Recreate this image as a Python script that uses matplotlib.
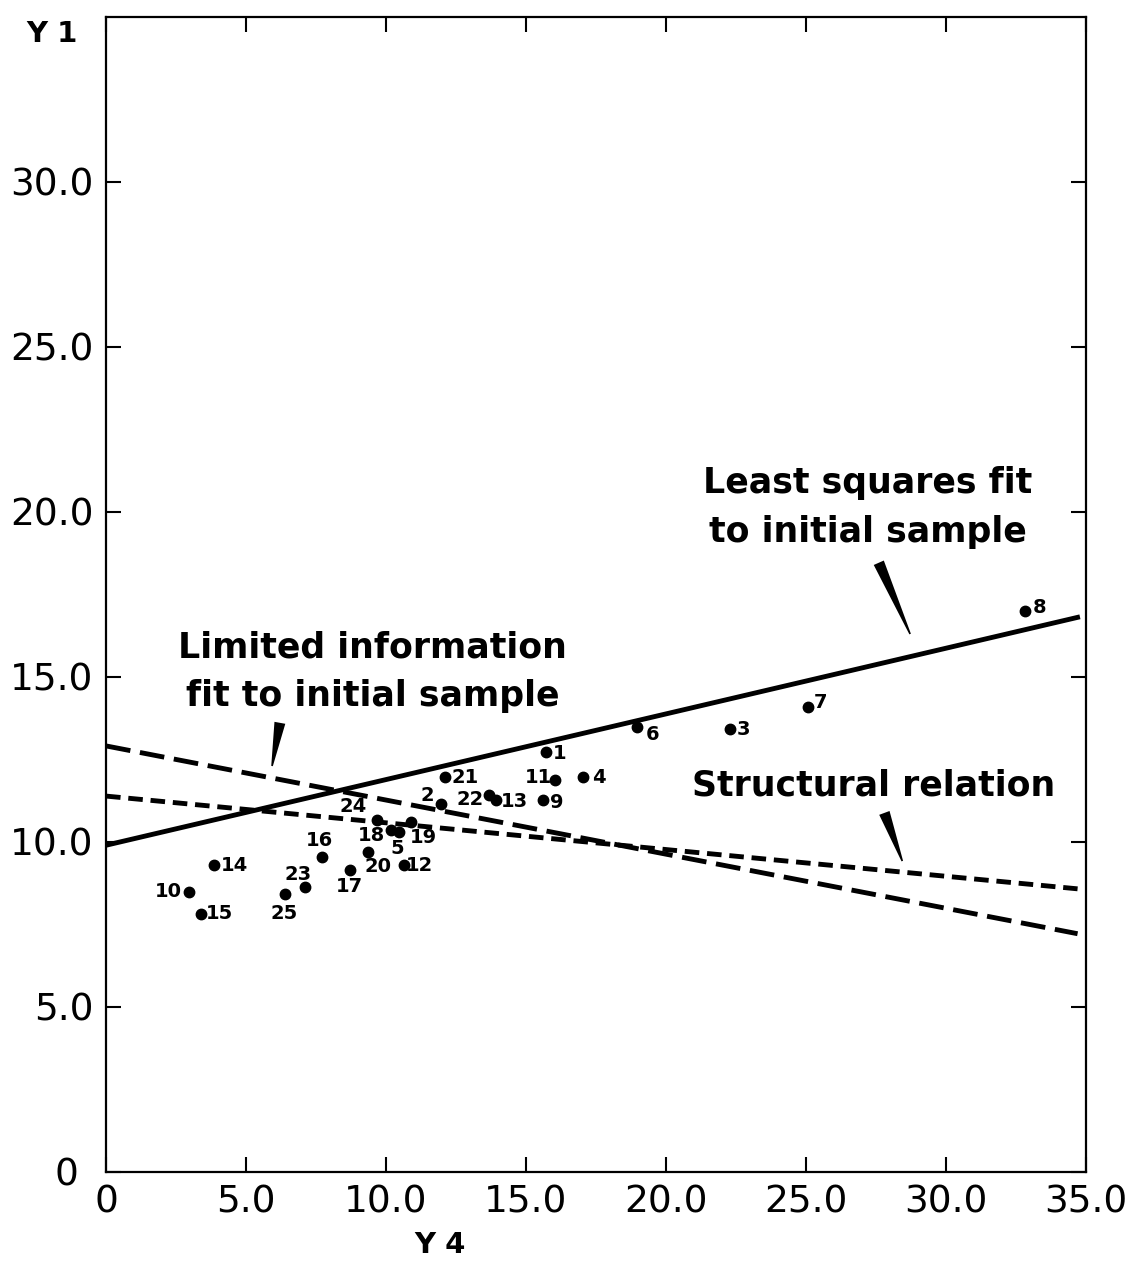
import numpy as np
import matplotlib
matplotlib.use('Agg')
import matplotlib.pyplot as plt
from matplotlib.patches import Polygon

#==============================================================================================#
# 0. 데이터
obs_id = [str(i) for i in range(1, 26)]
y4 = [15.70, 11.95, 22.27, 17.05, 10.47, 18.97, 25.07, 32.81, 15.62, 2.96,
      16.05, 10.64, 13.93, 3.87, 3.39, 7.70, 8.70, 10.19, 10.90, 9.35,
      12.10, 13.68, 7.12, 9.69, 6.40]
y1 = [12.73, 11.16, 13.42, 11.96, 10.30, 13.48, 14.09, 16.99, 11.27, 8.49,
      11.88, 9.29, 11.26, 9.30, 7.82, 9.53, 9.16, 10.36, 10.59, 9.70,
      11.98, 11.41, 8.63, 10.67, 8.42]

## 직선들: y1 = a + b * y4
fit_names = ['Least squares fit\nto initial sample',
             'Limited information\nfit to initial sample',
             'Structural relation']
fit_intercept = [9.90, 12.91, 11.39]
fit_slope = [0.199, -0.164, -0.081]
fit_xmax = [34.7, 34.7, 34.7]

x_ticks = [0, 5, 10, 15, 20, 25, 30, 35]
x_ticklabels = ['0', '5.0', '10.0', '15.0', '20.0', '25.0', '30.0', '35.0']
y_ticks = [0, 5, 10, 15, 20, 25, 30]
y_ticklabels = ['0', '5.0', '10.0', '15.0', '20.0', '25.0', '30.0']

#==============================================================================================#
# 1. 스타일 / 위치
## 점 번호 위치 (픽셀 오프셋, 위쪽 +)
label_off = {
    '1': (14, -2), '2': (-13, 8), '3': (14, 0), '4': (15, 0), '5': (-2, -16),
    '6': (15, -7), '7': (13, 4), '8': (15, 4), '9': (13, -2), '10': (-21, 0),
    '11': (-17, 2), '12': (16, 0), '13': (18, -1), '14': (20, 0), '15': (19, 0),
    '16': (-2, 17), '17': (0, -17), '18': (-20, -5), '19': (12, -15), '20': (10, -15),
    '21': (20, -1), '22': (-19, -4), '23': (-7, 13), '24': (-24, 13), '25': (-1, -19),
}
line_styles = ['-', (0, (5.1, 2.0)), (0, (3.0, 1.6))]
text_pos = [(27.2, 20.13), (9.53, 15.15), (27.4, 11.7)]
pointer_base = [(27.6, 18.46), (6.21, 13.61), (27.8, 10.88)]
pointer_tip = [(28.72, 16.30), (5.93, 12.30), (28.44, 9.42)]

#==============================================================================================#
# 2. 그림 그리기
fig = plt.figure(figsize=(11.35, 12.61), dpi=100)
ax = fig.add_axes([0.0934, 0.0706, 0.8634, 0.9160])
ax.set_xlim(0, 35)
ax.set_ylim(0, 35)

for a, b, xm, ls in zip(fit_intercept, fit_slope, fit_xmax, line_styles):
    xs = np.array([0.0, xm])
    ax.plot(xs, a + b * xs, color='black', lw=3.5, linestyle=ls)

ax.plot(y4, y1, 'o', color='black', markersize=7.5)
for name, x, y in zip(obs_id, y4, y1):
    dx, dy = label_off[name]
    ax.annotate(name, (x, y), xytext=(dx, dy), textcoords='offset pixels',
                ha='center', va='center', fontsize=14, fontweight='bold')

## 설명 문구 + 쐐기 모양 지시선
for name, (tx, ty) in zip(fit_names, text_pos):
    ax.text(tx, ty, name, ha='center', va='center', fontsize=25,
            fontweight='bold', linespacing=1.55)

for (bx, by), (px, py) in zip(pointer_base, pointer_tip):
    b_pix = ax.transData.transform((bx, by))
    t_pix = ax.transData.transform((px, py))
    d = t_pix - b_pix
    n = np.array([-d[1], d[0]]) / np.hypot(*d)
    pts = [b_pix + n * 5.5, t_pix + n * 0.8, t_pix - n * 0.8, b_pix - n * 5.5]
    pts = ax.transData.inverted().transform(pts)
    ax.add_patch(Polygon(pts, closed=True, color='black', lw=0))

## 축 설정
ax.set_xticks(x_ticks)
ax.set_xticklabels(x_ticklabels)
ax.set_yticks(y_ticks)
ax.set_yticklabels(y_ticklabels)
ax.tick_params(direction='in', length=11, width=1.5, labelsize=27, pad=9,
               top=True, right=True)
ax.get_yticklabels()[0].set_x(-0.015)  ## y축 '0' 은 조금 더 왼쪽
for sp in ax.spines.values():
    sp.set_linewidth(1.6)

fig.text(440 / 1135, 1 - 1245 / 1261, 'Y 4', ha='center', va='center',
         fontsize=21, fontweight='bold')
fig.text(52 / 1135, 1 - 34 / 1261, 'Y 1', ha='center', va='center',
         fontsize=21, fontweight='bold')

fig.savefig('out.png', dpi=100)
